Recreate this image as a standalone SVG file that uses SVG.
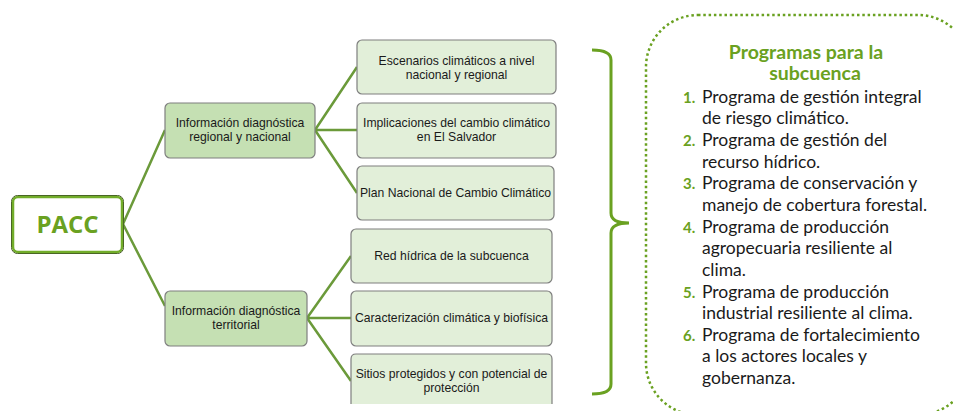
<svg xmlns="http://www.w3.org/2000/svg" width="953" height="411" viewBox="0 0 953 411">
<style>
.conn{stroke:#6b9a3a;stroke-width:2.5;fill:none}
.mid{fill:#c5e0b3;stroke:#7f7f7f;stroke-width:1.2}
.leaf{fill:#e2efd9;stroke:#7f7f7f;stroke-width:1.2}
.bt{font-family:"Liberation Sans",Arial,sans-serif;font-size:12.2px;fill:#1a1a1a;text-anchor:middle}
.rt{font-family:Lato,"Open Sans",sans-serif;font-size:17.5px;fill:#1a1a1a}
.num{font-family:Lato,"Open Sans",sans-serif;font-size:15px;font-weight:bold;fill:#6aa121}
.title{font-family:Lato,"Open Sans",sans-serif;font-size:19.5px;font-weight:bold;fill:#6aa121;text-anchor:middle}
</style>
<g id="connectors">
<path class="conn" d="M123,224 L165,130 M123,224 L165,306"/>
<path class="conn" d="M315,130 L357,67 M315,130 L357,130 M315,130 L357,193"/>
<path class="conn" d="M307,318 L351,256 M307,318 L351,318 M307,318 L351,381"/>
</g>
<g id="pacc">
<rect x="11.5" y="195.5" width="112" height="58" rx="6" fill="none" stroke="#3e4f24" stroke-width="1"/>
<rect x="13" y="197" width="109" height="55" rx="5" fill="#ffffff" stroke="#72ad2a" stroke-width="2.5"/>
<text x="67.5" y="233" font-family="'Open Sans',Lato,sans-serif" font-size="24" font-weight="bold" fill="#6aa121" text-anchor="middle">PACC</text>
</g>
<g id="mid1">
<rect class="mid" x="165" y="103" width="150" height="55" rx="5"/>
<text class="bt" x="240" y="127">Información diagnóstica</text>
<text class="bt" x="240" y="141">regional y nacional</text>
</g>
<g id="mid2">
<rect class="mid" x="165" y="291" width="142" height="55" rx="5"/>
<text class="bt" x="236" y="315">Información diagnóstica</text>
<text class="bt" x="236" y="329">territorial</text>
</g>
<g id="leaf1">
<rect class="leaf" x="357" y="40" width="199" height="54" rx="5"/>
<text class="bt" x="456.5" y="65">Escenarios climáticos a nivel</text>
<text class="bt" x="456.5" y="79">nacional y regional</text>
</g>
<g id="leaf2">
<rect class="leaf" x="357" y="103" width="199" height="55" rx="5"/>
<text class="bt" x="456.5" y="127">Implicaciones del cambio climático</text>
<text class="bt" x="456.5" y="141">en El Salvador</text>
</g>
<g id="leaf3">
<rect class="leaf" x="357" y="166" width="197" height="54" rx="5"/>
<text class="bt" x="455.5" y="197">Plan Nacional de Cambio Climático</text>
</g>
<g id="leaf4">
<rect class="leaf" x="351" y="229" width="201" height="54" rx="5"/>
<text class="bt" x="451.5" y="260">Red hídrica de la subcuenca</text>
</g>
<g id="leaf5">
<rect class="leaf" x="351" y="291" width="201" height="55" rx="5"/>
<text class="bt" x="451.5" y="322">Caracterización climática y biofísica</text>
</g>
<g id="leaf6">
<path class="leaf" d="M351,404 V359 Q351,354 356,354 H547 Q552,354 552,359 V404"/>
<text class="bt" x="451.5" y="378">Sitios protegidos y con potencial de</text>
<text class="bt" x="451.5" y="392">protección</text>
</g>
<g id="bracket">
<path d="M592,50 Q611,50 611,60 V213 Q611,223 629,223 Q611,223 611,233 V384 Q611,394 592,394" fill="none" stroke="#6aa121" stroke-width="3"/>
</g>
<g id="programas">
<rect x="646" y="15" width="324" height="400" rx="52" fill="none" stroke="#6aa121" stroke-width="2.5" stroke-dasharray="2.5 2.8"/>
<text class="title" x="806" y="59">Programas para la</text>
<text class="title" x="815" y="80">subcuenca</text>
<g>
<text class="num" x="683" y="103">1.</text>
<text class="rt" x="702" y="103">Programa de gestión integral</text>
<text class="rt" x="702" y="124">de riesgo climático.</text>
<text class="num" x="683" y="146">2.</text>
<text class="rt" x="702" y="146">Programa de gestión del</text>
<text class="rt" x="702" y="168">recurso hídrico.</text>
<text class="num" x="683" y="189">3.</text>
<text class="rt" x="702" y="189">Programa de conservación y</text>
<text class="rt" x="702" y="211">manejo de cobertura forestal.</text>
<text class="num" x="683" y="233">4.</text>
<text class="rt" x="702" y="233">Programa de producción</text>
<text class="rt" x="702" y="254">agropecuaria resiliente al</text>
<text class="rt" x="702" y="276">clima.</text>
<text class="num" x="683" y="298">5.</text>
<text class="rt" x="702" y="298">Programa de producción</text>
<text class="rt" x="702" y="319">industrial resiliente al clima.</text>
<text class="num" x="683" y="341">6.</text>
<text class="rt" x="702" y="341">Programa de fortalecimiento</text>
<text class="rt" x="702" y="362">a los actores locales y</text>
<text class="rt" x="702" y="384">gobernanza.</text>
</g>
</g>
</svg>
